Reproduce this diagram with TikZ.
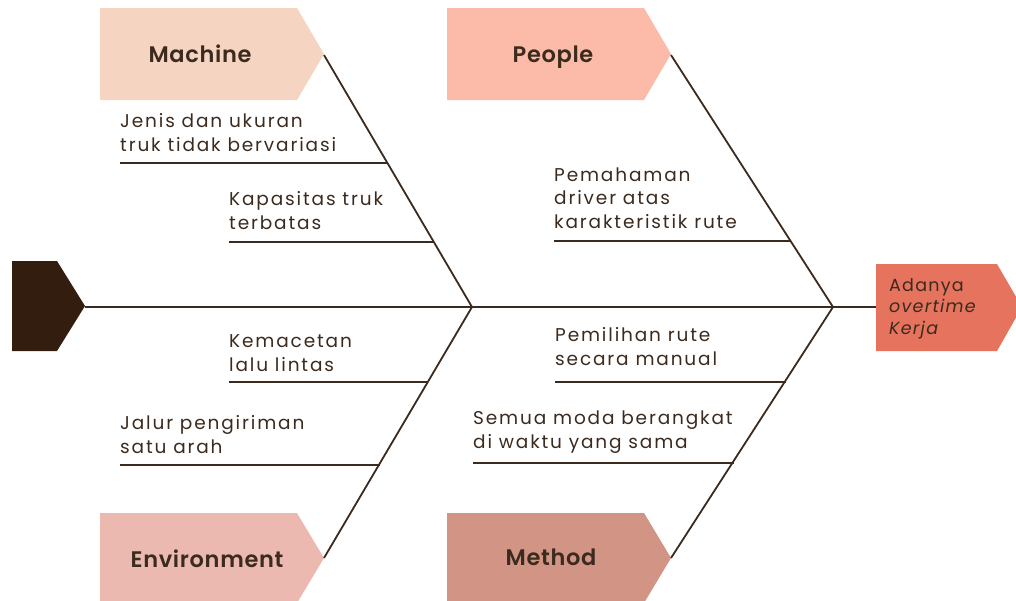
\documentclass[tikz,border=0pt]{standalone}
\usepackage{fontspec}
\setmainfont{Poppins}
\newfontfamily\bodyfont{Poppins}[LetterSpace=10]
\newfontfamily\effectfont{Poppins}[LetterSpace=7]
\newfontfamily\headfont{Poppins}[LetterSpace=3,BoldFont={Poppins SemiBold}]
\definecolor{ink}{HTML}{3B2A1E}
\definecolor{tailc}{HTML}{331D0E}
\definecolor{machc}{HTML}{F5D5C1}
\definecolor{peopc}{HTML}{FBBBA8}
\definecolor{envc}{HTML}{EBB9AF}
\definecolor{methc}{HTML}{D29484}
\definecolor{headc}{HTML}{E6735E}
\tikzset{
  bone/.style={draw=ink,line width=1.8pt},
  cat/.style={font=\headfont\fontsize{22.5}{26}\selectfont\bfseries,text=ink,anchor=base,inner sep=0pt},
  cause/.style={font=\bodyfont\fontsize{18.5}{23.5}\selectfont,text=ink,align=left,anchor=base west,inner sep=0pt},
}
\begin{document}
\begin{tikzpicture}[x=1pt,y=-1pt]
\useasboundingbox (0,0) rectangle (1016,600);
% category boxes
\fill[machc] (100,8) -- (297,8) -- (324,54) -- (297,100) -- (100,100) -- cycle;
\fill[peopc] (447,8) -- (644,8) -- (671,54) -- (644,100) -- (447,100) -- cycle;
\fill[envc] (100,513) -- (297,513) -- (324,558) -- (297,603) -- (100,603) -- cycle;
\fill[methc] (447,513) -- (644,513) -- (671,558) -- (644,603) -- (447,603) -- cycle;
% tail and head
\fill[tailc] (12,261) -- (57,261) -- (85,306) -- (57,351) -- (12,351) -- cycle;
\fill[headc] (876,264) -- (997,264) -- (1022,307) -- (997,351) -- (876,351) -- cycle;
\coordinate (tail) at (85,307);
\coordinate (head) at (876,307);
\coordinate (j1) at (472,307);
\coordinate (j2) at (833,307);
\coordinate (mt) at (324,55);
\coordinate (pt) at (671,55);
\coordinate (et) at (324,558);
\coordinate (mdt) at (671,558);
% labels
\node[cat] (machine) at (200,62) {Machine};
\node[cat] (people) at (553,62) {People};
\node[cat] (environment) at (207,567) {Environment};
\node[cat] (method) at (551,565) {Method};
\node[font=\effectfont\fontsize{17.5}{21.5}\selectfont,text=ink,align=left,anchor=base west,inner sep=0pt] (effect) at (889,334) {Adanya\\\textit{overtime}\\\textit{Kerja}};
% spine and bones
\draw[bone] (tail) -- (head);
\draw[bone] (mt) -- (j1);
\draw[bone] (et) -- (j1);
\draw[bone] (pt) -- (j2);
\draw[bone] (mdt) -- (j2);
% causes
\node[cause] (c1) at (120,151) {Jenis dan ukuran\\truk tidak bervariasi};
\coordinate (c1a) at (120,163); \coordinate (c1b) at (388,163);
\draw[bone] (c1a) -- (c1b);
\node[cause] (c2) at (229,229) {Kapasitas truk\\terbatas};
\coordinate (c2a) at (229,242); \coordinate (c2b) at (433,242);
\draw[bone] (c2a) -- (c2b);
\node[cause] (c3) at (554,228) {Pemahaman\\driver atas\\karakteristik rute};
\coordinate (c3a) at (554,241); \coordinate (c3b) at (790,241);
\draw[bone] (c3a) -- (c3b);
\node[cause] (c4) at (229,371) {Kemacetan\\lalu lintas};
\coordinate (c4a) at (229,382); \coordinate (c4b) at (428,382);
\draw[bone] (c4a) -- (c4b);
\node[cause] (c5) at (120,453) {Jalur pengiriman\\satu arah};
\coordinate (c5a) at (120,465); \coordinate (c5b) at (380,465);
\draw[bone] (c5a) -- (c5b);
\node[cause] (c6) at (555,365) {Pemilihan rute\\secara manual};
\coordinate (c6a) at (555,382); \coordinate (c6b) at (786,382);
\draw[bone] (c6a) -- (c6b);
\node[cause] (c7) at (473,448) {Semua moda berangkat\\di waktu yang sama};
\coordinate (c7a) at (473,463); \coordinate (c7b) at (734,463);
\draw[bone] (c7a) -- (c7b);
\end{tikzpicture}
\end{document}
